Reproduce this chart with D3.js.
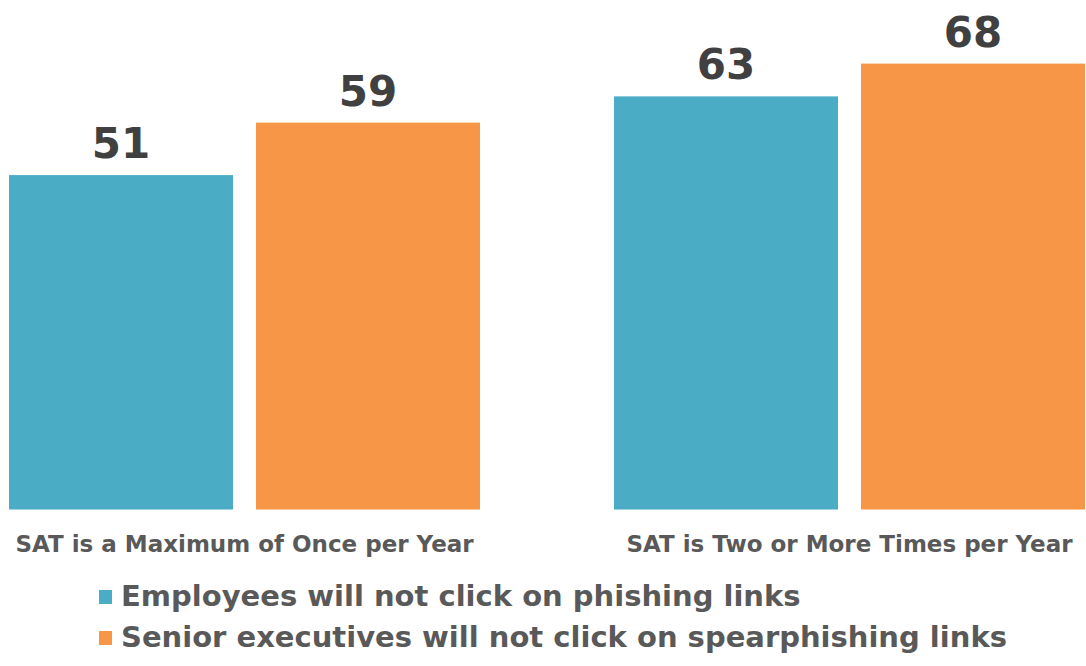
<!DOCTYPE html>
<html>
<head>
<meta charset="utf-8">
<script src="https://cdn.jsdelivr.net/npm/d3@7"></script>
<style>
  body { margin: 0; background: #fff; }
  text { font-family: "DejaVu Sans", Verdana, sans-serif; font-weight: bold; }
</style>
</head>
<body>
<div id="chart"></div>
<script>
// Data
const categories = ["SAT is a Maximum of Once per Year", "SAT is Two or More Times per Year"];
const seriesNames = ["Employees will not click on phishing links", "Senior executives will not click on spearphishing links"];
const employees = [51, 63];
const executives = [59, 68];
const colors = ["#4bacc6", "#f79646"];

const width = 1086, height = 666;

const svg = d3.select("#chart")
    .append("svg")
    .attr("width", width)
    .attr("height", height);

// Scales
const x0 = d3.scaleBand()
    .domain(categories)
    .range([9, 1085])
    .paddingInner(0.2215);

const x1 = d3.scaleBand()
    .domain(seriesNames)
    .range([0, x0.bandwidth()])
    .paddingInner(0.093);

const y = d3.scaleLinear()
    .domain([0, 77.7])
    .range([509.5, 0]);

const color = d3.scaleOrdinal().domain(seriesNames).range(colors);

const rows = categories.map((c, i) => ({
    category: c,
    values: [
        {series: seriesNames[0], value: employees[i]},
        {series: seriesNames[1], value: executives[i]}
    ]
}));

// Bars
const groups = svg.selectAll(".group")
    .data(rows)
    .enter()
    .append("g")
    .attr("class", "group")
    .attr("transform", d => `translate(${x0(d.category)},0)`);

groups.selectAll("rect")
    .data(d => d.values)
    .enter()
    .append("rect")
    .attr("x", d => x1(d.series))
    .attr("y", d => y(d.value))
    .attr("width", x1.bandwidth())
    .attr("height", d => y(0) - y(d.value))
    .style("fill", d => color(d.series));

// Value labels
groups.selectAll(".value")
    .data(d => d.values)
    .enter()
    .append("text")
    .attr("class", "value")
    .attr("x", d => x1(d.series) + x1.bandwidth() / 2)
    .attr("y", d => y(d.value) - 17)
    .attr("text-anchor", "middle")
    .style("font-size", "42px")
    .style("fill", "#404040")
    .text(d => d.value);

// Category labels
svg.selectAll(".cat")
    .data(categories)
    .enter()
    .append("text")
    .attr("class", "cat")
    .attr("x", d => x0(d) + x0.bandwidth() / 2)
    .attr("y", 552)
    .attr("text-anchor", "middle")
    .style("font-size", "23px")
    .style("fill", "#595959")
    .text(d => d);

// Legend
const legend = svg.selectAll(".legend")
    .data(seriesNames)
    .enter()
    .append("g")
    .attr("class", "legend")
    .attr("transform", (d, i) => `translate(99, ${606 + i * 41})`);

legend.append("rect")
    .attr("x", 0)
    .attr("y", -16)
    .attr("width", 13)
    .attr("height", 14)
    .style("fill", d => color(d));

legend.append("text")
    .attr("x", 22)
    .attr("y", 0)
    .style("font-size", "29px")
    .style("fill", "#595959")
    .text(d => d);
</script>
</body>
</html>
